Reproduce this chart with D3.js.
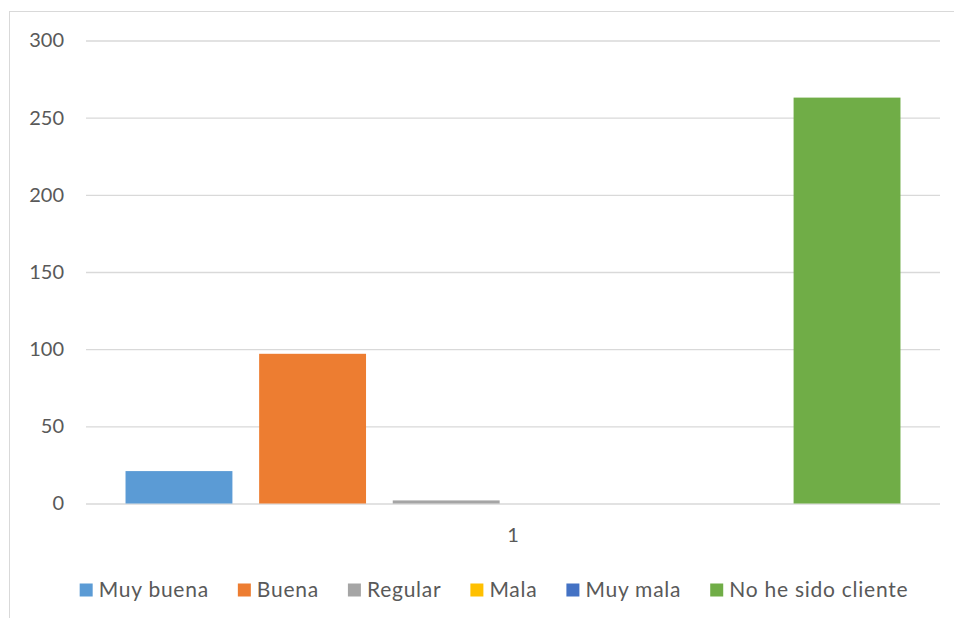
<!DOCTYPE html>
<html><head><meta charset="utf-8">
<script src="https://cdn.jsdelivr.net/npm/d3@7"></script>
<style>
html,body{margin:0;padding:0;background:#fff;}
svg{display:block;font-family:Lato,"Liberation Sans",sans-serif;}
</style></head>
<body><svg id="c" width="954" height="618"></svg>
<script>
const categories = ["1"];
const seriesNames = ["Muy buena","Buena","Regular","Mala","Muy mala","No he sido cliente"];
const seriesValues = [21, 97, 2, 0, 0, 263];
const seriesColors = ["#5B9BD5","#ED7D31","#A5A5A5","#FFC000","#4472C4","#70AD47"];
const yTicks = [0,50,100,150,200,250,300];

const svg = d3.select("#c");
const W = 954, H = 618;
const m = {left:86, right:14, top:40.5, bottom:114.5};
const pw = W - m.left - m.right, ph = H - m.top - m.bottom;

svg.append("rect").attr("x",9.5).attr("y",11.5).attr("width",W).attr("height",H)
  .attr("fill","#fff").attr("stroke","#d9d9d9").attr("stroke-width",1);

const g = svg.append("g").attr("transform",`translate(${m.left},${m.top})`);
const y = d3.scaleLinear().domain([0,300]).range([ph,0]);
const x0 = d3.scaleBand().domain(categories).range([0,pw]).paddingInner(0).paddingOuter(0.051);
const x1 = d3.scaleBand().domain(seriesNames).range([0,x0.bandwidth()]).paddingInner(0.2).paddingOuter(0);

const yAxis = d3.axisLeft(y).tickValues(yTicks).tickSize(-pw).tickPadding(22);
const ya = g.append("g").call(yAxis);
ya.select(".domain").remove();
ya.selectAll(".tick line").attr("stroke","#d9d9d9").attr("stroke-width",1.3);
ya.selectAll(".tick text").attr("fill","#595959").style("font-size","20px").attr("font-family","Lato");

const xAxis = d3.axisBottom(x0).tickSize(0).tickPadding(24);
const xa = g.append("g").attr("transform",`translate(0,${ph})`).call(xAxis);
xa.select(".domain").remove();
xa.selectAll(".tick text").attr("fill","#595959").style("font-size","20px").attr("font-family","Lato");

const grp = g.selectAll(".grp").data(categories).join("g").attr("transform",d=>`translate(${x0(d)},0)`);
grp.selectAll("rect").data(seriesNames.map((n,i)=>({n,v:seriesValues[i],c:seriesColors[i]})))
  .join("rect")
  .attr("x",d=>x1(d.n)).attr("width",x1.bandwidth())
  .attr("y",d=>y(d.v)).attr("height",d=>ph - y(d.v))
  .attr("fill",d=>d.c);

// legend
const leg = svg.append("g");
const items = leg.selectAll("g").data(seriesNames).join("g");
items.append("rect").attr("width",13).attr("height",13).attr("y",-13).attr("fill",(d,i)=>seriesColors[i]);
items.append("text").attr("x",19).attr("y",0).text(d=>d).attr("fill","#595959")
  .style("font-size","21px").style("letter-spacing","0.75px");
let widths = [];
items.each(function(){ widths.push(this.querySelector("text").getComputedTextLength()+19); });
const gap = 29;
const total = d3.sum(widths) + gap*(widths.length-1);
const legendCenter = 494;
let cx = legendCenter - total/2;
items.attr("transform",(d,i)=>{ const t=`translate(${cx},${596.5})`; cx += widths[i]+gap; return t; });
</script></body></html>
